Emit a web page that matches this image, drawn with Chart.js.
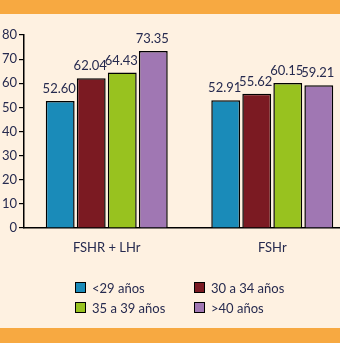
<!DOCTYPE html>
<html>
<head>
<meta charset="utf-8">
<script src="https://cdn.jsdelivr.net/npm/chart.js@4/dist/chart.umd.min.js"></script>
<style>
  html, body { margin: 0; padding: 0; }
  body { width: 340px; height: 343px; background: #FEF1E1; position: relative; overflow: hidden; font-family: Lato, "Open Sans", sans-serif; }
  .band { position: absolute; left: 0; width: 340px; background: #F7A941; }
  #top { top: 0; height: 14px; }
  #bottom { top: 328px; height: 15px; }
  #wrap { position: absolute; left: 0; top: 0; width: 355px; height: 343px; }
  #legend { position: absolute; left: 75px; top: 280px; display: grid; grid-template-columns: 119px 120px; row-gap: 5px; color: #262a4f; font-size: 13px; }
  .item { display: flex; align-items: center; height: 15px; }
  .sw { width: 9px; height: 9px; border: 1.2px solid #000; margin-right: 6px; }
</style>
</head>
<body>
<div class="band" id="top"></div>
<div id="wrap"><canvas id="c" width="355" height="343"></canvas></div>
<div id="legend"></div>
<div class="band" id="bottom"></div>
<script>
const categories = ["FSHR + LHr", "FSHr"];
const seriesNames = ["<29 años", "30 a 34 años", "35 a 39 años", ">40 años"];
const under29 = [52.60, 52.91];
const age30to34 = [62.04, 55.62];
const age35to39 = [64.43, 60.15];
const over40 = [73.35, 59.21];
const yTicks = [0, 10, 20, 30, 40, 50, 60, 70, 80];
const colors = ["#1A8BB9", "#7B1A22", "#98C21F", "#A077B3"];

const seriesValues = [under29, age30to34, age35to39, over40];
const textColor = "#262a4f";

const datasets = seriesNames.map((n, i) => ({
  label: n,
  data: seriesValues[i],
  backgroundColor: colors[i],
  borderColor: "#000",
  borderWidth: 1.5,
  categoryPercentage: 0.75,
  barPercentage: 0.93
}));

const valueLabels = {
  id: "valueLabels",
  afterDatasetsDraw(chart) {
    const ctx = chart.ctx;
    ctx.save();
    ctx.fillStyle = textColor;
    ctx.font = "13px Lato";
    ctx.textAlign = "center";
    ctx.textBaseline = "alphabetic";
    chart.data.datasets.forEach((ds, di) => {
      chart.getDatasetMeta(di).data.forEach((bar, i) => {
        ctx.fillText(ds.data[i].toFixed(2), bar.x - 1, bar.y - 8);
      });
    });
    ctx.restore();
  }
};

new Chart(document.getElementById("c"), {
  type: "bar",
  data: { labels: categories, datasets },
  options: {
    responsive: false,
    animation: false,
    layout: { padding: { top: 35, bottom: 85, left: 0, right: 0 } },
    plugins: { legend: { display: false }, tooltip: { enabled: false } },
    scales: {
      x: {
        grid: { display: true, drawOnChartArea: false, drawTicks: false },
        border: { display: true, color: "#000", width: 1.5 },
        ticks: { color: textColor, font: { family: "Lato", size: 13 }, padding: 12 },
        afterFit(s) { s.height = 30; }
      },
      y: {
        min: 0, max: 80,
        afterBuildTicks(s) { s.ticks = yTicks.map(v => ({ value: v })); },
        grid: { display: true, drawOnChartArea: false, drawTicks: true, tickLength: 5, color: "#000", lineWidth: 1.2 },
        border: { display: true, color: "#000", width: 1.5 },
        ticks: { color: textColor, font: { family: "Lato", size: 13 }, padding: 2 },
        afterFit(s) { s.width = 24; }
      }
    }
  },
  plugins: [valueLabels]
});

const lg = document.getElementById("legend");
seriesNames.forEach((n, i) => {
  const d = document.createElement("div");
  d.className = "item";
  const sw = document.createElement("span");
  sw.className = "sw";
  sw.style.background = colors[i];
  const t = document.createElement("span");
  t.textContent = n;
  d.appendChild(sw); d.appendChild(t);
  lg.appendChild(d);
});
</script>
</body>
</html>
